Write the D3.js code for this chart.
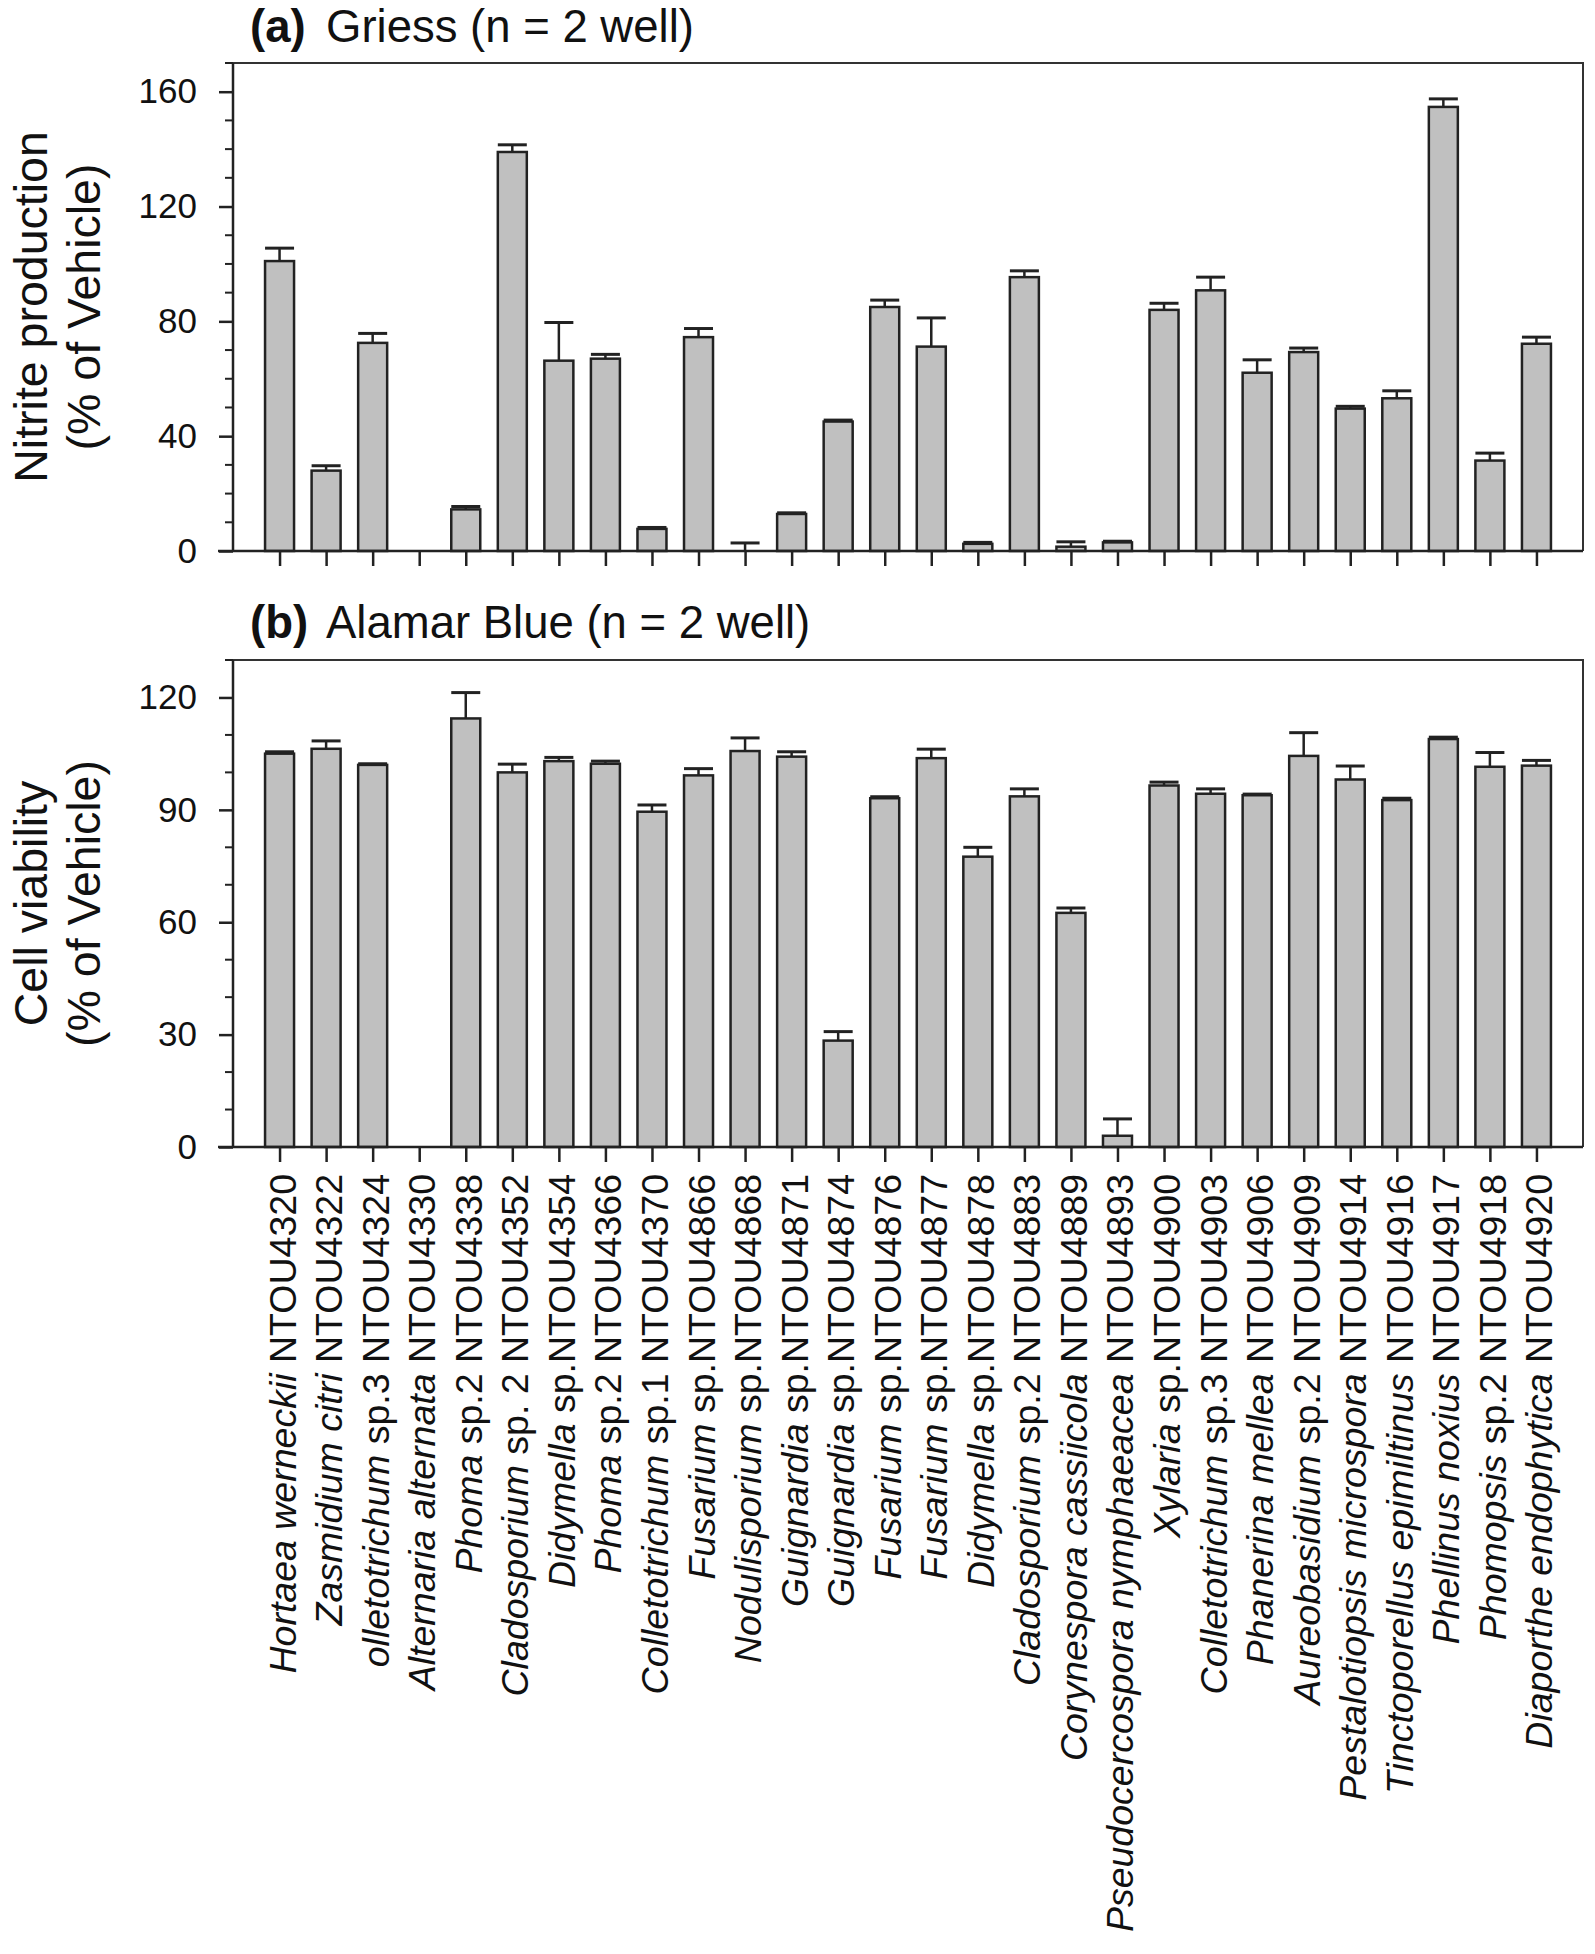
<!DOCTYPE html>
<html>
<head>
<meta charset="utf-8">
<script src="https://cdn.jsdelivr.net/npm/d3@7"></script>
<style>
  html, body { margin: 0; padding: 0; background: #fff; }
  svg { display: block; }
  text { font-family: "Liberation Sans", Arial, Helvetica, sans-serif; fill: #111; }
</style>
</head>
<body>
<svg id="chart" width="1595" height="1954"></svg>
<script>
// ---- Data ----
const genus = ["Hortaea werneckii", "Zasmidium citri", "olletotrichum", "Alternaria alternata", "Phoma",
  "Cladosporium", "Didymella", "Phoma", "Colletotrichum", "Fusarium", "Nodulisporium", "Guignardia",
  "Guignardia", "Fusarium", "Fusarium", "Didymella", "Cladosporium", "Corynespora cassiicola",
  "Pseudocercospora nymphaeacea", "Xylaria", "Colletotrichum", "Phanerina mellea", "Aureobasidium",
  "Pestalotiopsis microspora", "Tinctoporellus epimiltinus", "Phellinus noxius", "Phomopsis", "Diaporthe endophytica"];
const strain = [" NTOU4320", " NTOU4322", " sp.3 NTOU4324", " NTOU4330", " sp.2 NTOU4338",
  " sp. 2 NTOU4352", " sp.NTOU4354", " sp.2 NTOU4366", " sp.1 NTOU4370", " sp.NTOU4866", " sp.NTOU4868",
  " sp.NTOU4871", " sp.NTOU4874", " sp.NTOU4876", " sp.NTOU4877", " sp.NTOU4878", " sp.2 NTOU4883",
  " NTOU4889", " NTOU4893", " sp.NTOU4900", " sp.3 NTOU4903", " NTOU4906", " sp.2 NTOU4909",
  " NTOU4914", " NTOU4916", " NTOU4917", " sp.2 NTOU4918", " NTOU4920"];

const nitrite    = [101, 28, 72.5, 0, 14.5, 139, 66.3, 67, 7.7, 74.5, 0, 12.9, 45.1, 85, 71.2, 2.5, 95.4, 1.5, 3, 84, 90.8, 62.1, 69.3, 49.6, 53.2, 154.7, 31.5, 72.2];
const nitriteErr = [4.5, 1.7, 3.3, 0, 1, 2.5, 13.3, 1.5, 0.5, 3, 2.8, 0.4, 0.5, 2.4, 10, 0.5, 2.2, 1.7, 0.4, 2.3, 4.6, 4.5, 1.4, 0.8, 2.6, 2.8, 2.6, 2.3];

const viability    = [105, 106.3, 102, 0, 114.4, 100, 103, 102.3, 89.5, 99.2, 105.7, 104.2, 28.4, 93.1, 103.8, 77.5, 93.6, 62.5, 3, 96.5, 94.3, 93.9, 104.4, 98.1, 92.6, 108.9, 101.5, 101.8];
const viabilityErr = [0.5, 2.1, 0.3, 0, 6.9, 2.2, 1, 0.7, 1.8, 1.8, 3.5, 1.3, 2.4, 0.4, 2.4, 2.5, 2, 1.3, 4.5, 0.9, 1.3, 0.3, 6.2, 3.6, 0.5, 0.5, 3.8, 1.4];

const nitriteTicks = [0, 40, 80, 120, 160];
const viabilityTicks = [0, 30, 60, 90, 120];

const categories = genus.map((g, i) => g + strain[i]);

// ---- Layout ----
const svg = d3.select("#chart");
svg.append("rect").attr("width", 1595).attr("height", 1954).attr("fill", "#fff");

const left = 233, right = 1583;
const x = d3.scalePoint().domain(categories).range([left, right]).padding(1);
const barW = 29;
const stroke = "#222";

function panel(cfg) {
  const y = d3.scaleLinear().domain([0, cfg.max]).range([cfg.bottom, cfg.top]);
  const g = svg.append("g");

  // frame top and right
  g.append("path")
    .attr("d", `M${left - 8},${cfg.top}H${right}V${cfg.bottom}`)
    .attr("fill", "none").attr("stroke", "#333").attr("stroke-width", 2);

  // bars
  const data = cfg.values.map((v, i) => ({ c: categories[i], v, e: cfg.errs[i] }));
  g.selectAll("rect.bar").data(data.filter(d => d.v > 0)).enter().append("rect")
    .attr("class", "bar")
    .attr("x", d => x(d.c) - barW / 2)
    .attr("y", d => y(d.v))
    .attr("width", barW)
    .attr("height", d => y(0) - y(d.v))
    .attr("fill", "#c0c0c0")
    .attr("stroke", stroke).attr("stroke-width", 2.5);

  // error bars
  const eb = data.filter(d => d.e > 0);
  g.selectAll("line.ev").data(eb).enter().append("line")
    .attr("x1", d => x(d.c)).attr("x2", d => x(d.c))
    .attr("y1", d => y(d.v)).attr("y2", d => y(d.v + d.e))
    .attr("stroke", stroke).attr("stroke-width", 2.5);
  g.selectAll("line.cap").data(eb).enter().append("line")
    .attr("x1", d => x(d.c) - barW / 2).attr("x2", d => x(d.c) + barW / 2)
    .attr("y1", d => y(d.v + d.e)).attr("y2", d => y(d.v + d.e))
    .attr("stroke", stroke).attr("stroke-width", 3);

  // y axis
  const ya = d3.axisLeft(y).tickValues(cfg.ticks).tickSize(14).tickPadding(22).tickFormat(d3.format("d"));
  const yg = g.append("g").attr("transform", `translate(${left},0)`).call(ya);
  yg.select(".domain").attr("stroke", stroke).attr("stroke-width", 2.5)
    .attr("d", `M0,${cfg.top}V${cfg.bottom}`);
  yg.selectAll(".tick line").attr("stroke", stroke).attr("stroke-width", 2.5);
  yg.selectAll(".tick text").attr("font-size", 35).attr("font-family", '"Liberation Sans", Arial, sans-serif').attr("fill", "#111");
  // minor ticks
  const minor = d3.range(0, cfg.max + 0.001, 10).filter(v => !cfg.ticks.includes(v));
  g.selectAll("line.minor").data(minor).enter().append("line")
    .attr("x1", left - 8).attr("x2", left)
    .attr("y1", d => y(d)).attr("y2", d => y(d))
    .attr("stroke", stroke).attr("stroke-width", 2);

  // x axis
  const xa = d3.axisBottom(x).tickSize(15).tickFormat("");
  const xg = g.append("g").attr("transform", `translate(0,${cfg.bottom})`).call(xa);
  xg.select(".domain").attr("stroke", stroke).attr("stroke-width", 2.5)
    .attr("d", `M${left - 15},0H${right}`);
  xg.selectAll(".tick line").attr("stroke", stroke).attr("stroke-width", 2.5);

  // y title
  const cy = (cfg.top + cfg.bottom) / 2;
  g.append("text").attr("transform", `translate(47,${cy}) rotate(-90)`)
    .attr("text-anchor", "middle").attr("font-size", 46.5).text(cfg.yTitle1);
  g.append("text").attr("transform", `translate(100,${cy}) rotate(-90)`)
    .attr("text-anchor", "middle").attr("font-size", 46.5).text(cfg.yTitle2);

  // panel title
  const t = g.append("text").attr("y", cfg.titleY).attr("font-size", 45.5);
  t.append("tspan").attr("x", 250).attr("font-weight", "bold").text(cfg.letter);
  t.append("tspan").attr("x", 326).text(cfg.title);

  return { y, g };
}

panel({
  top: 63, bottom: 551, max: 170, values: nitrite, errs: nitriteErr, ticks: nitriteTicks,
  yTitle1: "Nitrite production", yTitle2: "(% of Vehicle)",
  letter: "(a)", title: "Griess (n = 2 well)", titleY: 42
});

panel({
  top: 660, bottom: 1147, max: 130, values: viability, errs: viabilityErr, ticks: viabilityTicks,
  yTitle1: "Cell viability", yTitle2: "(% of Vehicle)",
  letter: "(b)", title: "Alamar Blue (n = 2 well)", titleY: 638
});

// x category labels
const lab = svg.append("g").selectAll("text").data(categories).enter().append("text")
  .attr("transform", d => `translate(${x(d) + 16},1174) rotate(-90)`)
  .attr("text-anchor", "end")
  .attr("font-size", 37.5);
lab.append("tspan").attr("font-style", "italic").text((d, i) => genus[i]);
lab.append("tspan").text((d, i) => strain[i]);
</script>
</body>
</html>
